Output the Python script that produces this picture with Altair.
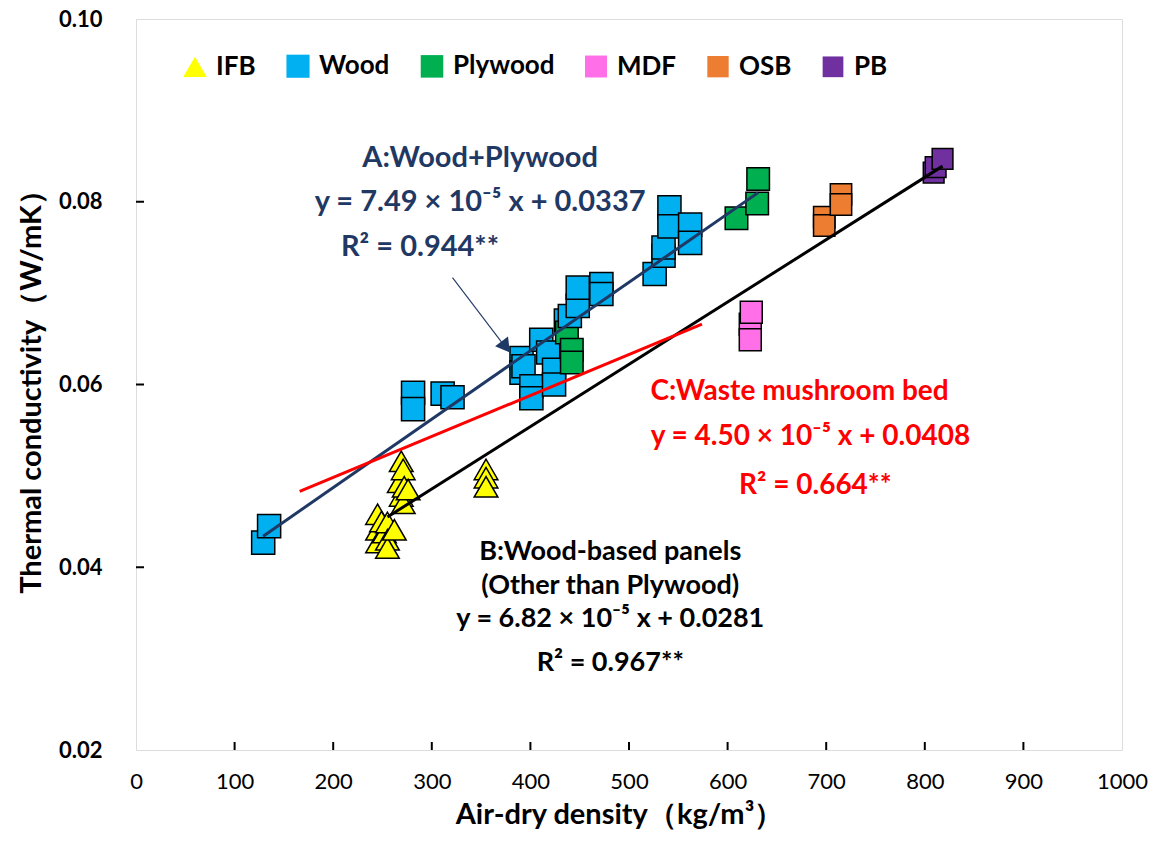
import altair as alt
import pandas as pd

# ---------------- data ----------------
categories = ["IFB", "Wood", "Plywood", "MDF", "OSB", "PB"]
cat_colors = ["#FFFF00", "#00B0F0", "#00B050", "#FF6FE8", "#ED7D31", "#7030A0"]
cat_shapes = ["triangle-up", "square", "square", "square", "square", "square"]
cat_sizes = [560, 430, 430, 430, 430, 430]

ifb_x = [269, 271, 267, 272, 276, 269, 271, 245, 249, 255, 245, 252, 262, 255, 245, 255, 355, 355, 355]
ifb_y = [0.0516, 0.0507, 0.0493, 0.0488, 0.0485, 0.0478, 0.0470, 0.0458, 0.0450, 0.0449, 0.0441, 0.0438,
         0.0441, 0.0430, 0.0427, 0.0421, 0.0507, 0.0498, 0.0488]

wood_x = [129, 135, 281, 281, 311, 321, 391, 391, 393, 411, 418, 401, 401, 424, 424, 436, 440, 448, 448,
          472, 472, 526, 535, 535, 541, 541, 562, 562]
wood_y = [0.0427, 0.0445, 0.0591, 0.0573, 0.0590, 0.0586, 0.0629, 0.0613, 0.0620, 0.0649, 0.0635, 0.0598,
          0.0585, 0.0616, 0.0600, 0.0670, 0.0675, 0.0686, 0.0706, 0.0710, 0.0699, 0.0721, 0.0741, 0.0750,
          0.0794, 0.0773, 0.0775, 0.0755]

ply_x = [437, 442, 442, 609, 630, 631]
ply_y = [0.0657, 0.0638, 0.0624, 0.0782, 0.0798, 0.0825]

mdf_x = [624, 623, 623]
mdf_y = [0.0679, 0.0666, 0.0649]

osb_x = [698, 698, 715, 715]
osb_y = [0.0783, 0.0774, 0.0808, 0.0797]

pb_x = [809, 811, 818]
pb_y = [0.0832, 0.0838, 0.0847]

# regression lines (end points)
lineA_x = [129, 631]
lineA_y = [0.0434, 0.0810]
lineB_x = [255, 818]
lineB_y = [0.0455, 0.0839]
lineC_x = [166, 574]
lineC_y = [0.0483, 0.0666]

# arrow pointing at line A
arrow_x = [321, 376]
arrow_y = [0.0717, 0.0639]
arrowhead_x = [375]
arrowhead_y = [0.0641]

# annotations
textA = ["A:Wood+Plywood", "y = 7.49 × 10⁻⁵ x + 0.0337", "R² = 0.944**"]
textA_x = [349, 349, 288]
textA_y = [0.0848, 0.0800, 0.0750]

textB = ["B:Wood-based panels", "(Other than Plywood)", "y = 6.82 × 10⁻⁵ x + 0.0281", "R² = 0.967**"]
textB_x = [481, 481, 481, 481]
textB_y = [0.0417, 0.0380, 0.0343, 0.0295]

textC = ["C:Waste mushroom bed", "y = 4.50 × 10⁻⁵ x + 0.0408", "R² = 0.664**"]
textC_x = [673, 684, 689]
textC_y = [0.0592, 0.0542, 0.0489]

x_ticks = [100, 200, 300, 400, 500, 600, 700, 800, 900]
y_ticks = [0.04, 0.06, 0.08]
x_labels = [0, 100, 200, 300, 400, 500, 600, 700, 800, 900, 1000]
y_labels = [0.02, 0.04, 0.06, 0.08, 0.10]

# ---------------- build tables ----------------
rows = []
for cat, xs, ys in [("IFB", ifb_x, ifb_y), ("Wood", wood_x, wood_y), ("Plywood", ply_x, ply_y),
                    ("MDF", mdf_x, mdf_y), ("OSB", osb_x, osb_y), ("PB", pb_x, pb_y)]:
    for a, b in zip(xs, ys):
        rows.append({"type": cat, "x": a, "y": b})
points = pd.DataFrame(rows)

FONT = "Lato"
W, H = 986, 731
NAVY = "#1F3864"

xscale = alt.Scale(domain=[0, 1000], nice=False, zero=False)
yscale = alt.Scale(domain=[0.02, 0.10], nice=False, zero=False)

leg = alt.Legend(
    title=None, orient="none", legendX=46, legendY=34, direction="horizontal",
    labelFont=FONT, labelFontSize=26, labelFontWeight="bold", labelColor="black",
    symbolSize=330, symbolStrokeColor="black", symbolStrokeWidth=1.5,
    columnPadding=27, labelOffset=8, symbolOpacity=1,
)

xenc = alt.X("x:Q", scale=xscale, axis=alt.Axis(
    values=x_labels, format="d", title="Air-dry density（kg/m³）", grid=False, ticks=False,
    domain=False, labelFont=FONT, labelFontSize=22, labelColor="black", labelPadding=21,
    titleFont=FONT, titleFontSize=29, titleFontWeight="bold", titleColor="black",
    titlePadding=8, titleX=483, titleAlign="center", labelFlush=False))
yenc = alt.Y("y:Q", scale=yscale, axis=alt.Axis(
    values=y_labels, format=".2f", title="Thermal conductivity（W/mK）", grid=False, ticks=False,
    domain=False, labelFont=FONT, labelFontSize=22, labelFontWeight="bold", labelColor="black",
    labelPadding=34, titleFont=FONT, titleFontSize=29, titleFontWeight="bold", titleColor="black",
    titlePadding=12, labelFlush=False))

pts = alt.Chart(points).mark_point(filled=True, stroke="black", strokeWidth=1.5, opacity=1).encode(
    x=xenc, y=yenc,
    color=alt.Color("type:N", scale=alt.Scale(domain=categories, range=cat_colors), legend=leg),
    shape=alt.Shape("type:N", scale=alt.Scale(domain=categories, range=cat_shapes), legend=leg),
    size=alt.Size("type:N", scale=alt.Scale(domain=categories, range=cat_sizes), legend=None),
    order=alt.Order("x:Q"),
)


def line_layer(xs, ys, color, width):
    df = pd.DataFrame({"x": xs, "y": ys})
    return alt.Chart(df).mark_line(color=color, strokeWidth=width).encode(
        x=alt.X("x:Q", scale=xscale), y=alt.Y("y:Q", scale=yscale))


lineA = line_layer(lineA_x, lineA_y, NAVY, 3)
lineB = line_layer(lineB_x, lineB_y, "black", 3)
lineC = line_layer(lineC_x, lineC_y, "#FF0000", 3)

arrow_df = pd.DataFrame({"x": [arrow_x[0]], "y": [arrow_y[0]], "x2": [arrow_x[1]], "y2": [arrow_y[1]]})
arrow = alt.Chart(arrow_df).mark_rule(color=NAVY, strokeWidth=1.1).encode(
    x=alt.X("x:Q", scale=xscale), y=alt.Y("y:Q", scale=yscale), x2="x2:Q", y2="y2:Q")
head = alt.Chart(pd.DataFrame({"x": arrowhead_x, "y": arrowhead_y})).mark_point(
    shape="triangle-up", angle=143, filled=True, color=NAVY, size=260, opacity=1).encode(
    x=alt.X("x:Q", scale=xscale), y=alt.Y("y:Q", scale=yscale))


def text_layer(labels, xs, ys, color, fs):
    df = pd.DataFrame({"label": labels, "x": xs, "y": ys})
    return alt.Chart(df).mark_text(font=FONT, fontSize=fs, fontWeight="bold", color=color,
                                   align="center", baseline="middle").encode(
        x=alt.X("x:Q", scale=xscale), y=alt.Y("y:Q", scale=yscale), text="label:N")


tA = text_layer(textA, textA_x, textA_y, NAVY, 29)
tB = text_layer(textB, textB_x, textB_y, "black", 27)
tC = text_layer(textC, textC_x, textC_y, "#FF0000", 28)

xt = alt.Chart(pd.DataFrame({"x": x_ticks})).mark_rule(color="black", strokeWidth=2).encode(
    x=alt.X("x:Q", scale=xscale), y=alt.value(H), y2=alt.value(H - 8))
yt = alt.Chart(pd.DataFrame({"y": y_ticks})).mark_rule(color="black", strokeWidth=2).encode(
    y=alt.Y("y:Q", scale=yscale), x=alt.value(0), x2=alt.value(8))

chart = alt.layer(pts, lineA, lineB, lineC, arrow, head, tA, tB, tC, xt, yt).properties(
    width=W, height=H,
    autosize=alt.AutoSizeParams(type="none"),
    padding={"left": 136, "top": 19, "right": 34, "bottom": 106},
).configure_view(stroke="black", strokeWidth=2.5).configure(background="white")

chart.save("out.html", embed_options={"renderer": "svg", "actions": False})
